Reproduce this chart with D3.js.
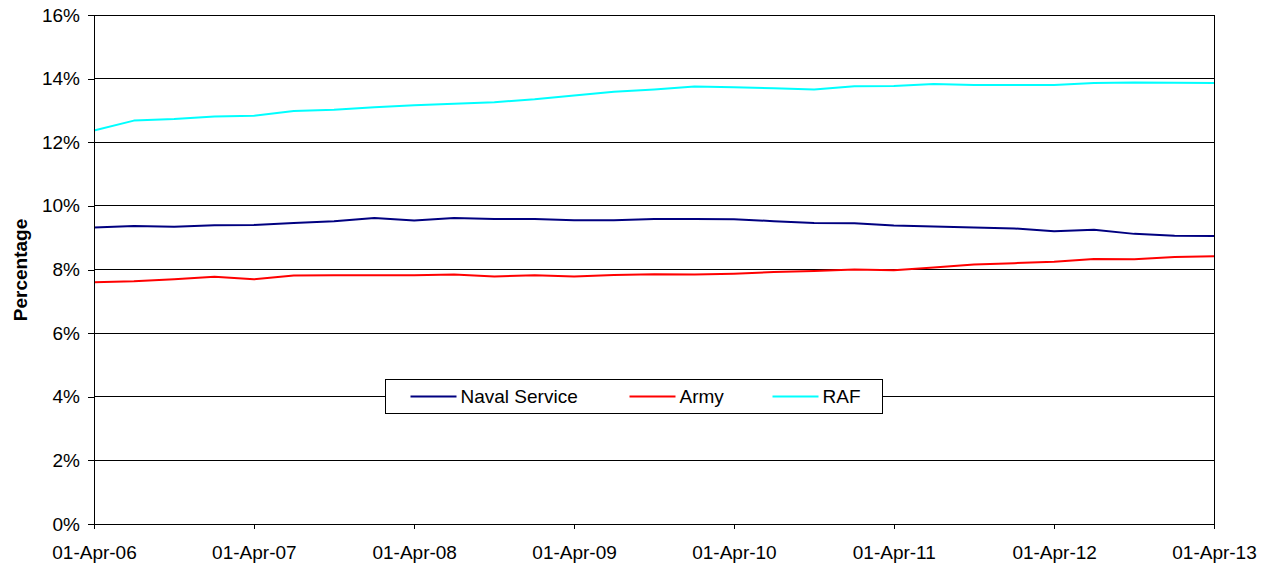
<!DOCTYPE html>
<html>
<head>
<meta charset="utf-8">
<script src="https://cdn.jsdelivr.net/npm/d3@7"></script>
<style>
  body { margin: 0; background: #fff; }
  svg { font-family: "Liberation Sans", Arial, sans-serif; }
  .axis text { font-size: 19px; fill: #000; }
  .axis path, .axis line { stroke: #000; shape-rendering: crispEdges; }
  .grid line { stroke: #000; shape-rendering: crispEdges; }
  .line { fill: none; stroke-width: 2; stroke-linejoin: round; }
  .legend text { font-size: 19px; }
</style>
</head>
<body>
<div class="graph"></div>
<script>
// quarterly snapshot dates
var dates = [
  "2006-04-01", "2006-07-01", "2006-10-01", "2007-01-01",
  "2007-04-01", "2007-07-01", "2007-10-01", "2008-01-01",
  "2008-04-01", "2008-07-01", "2008-10-01", "2009-01-01",
  "2009-04-01", "2009-07-01", "2009-10-01", "2010-01-01",
  "2010-04-01", "2010-07-01", "2010-10-01", "2011-01-01",
  "2011-04-01", "2011-07-01", "2011-10-01", "2012-01-01",
  "2012-04-01", "2012-07-01", "2012-10-01", "2013-01-01",
  "2013-04-01"
];
var xTickDates = ["2006-04-01", "2007-04-01", "2008-04-01", "2009-04-01",
  "2010-04-01", "2011-04-01", "2012-04-01", "2013-04-01"];
var yTicks = [0, 2, 4, 6, 8, 10, 12, 14, 16];

var naval = [9.32, 9.37, 9.34, 9.39, 9.40, 9.46, 9.52, 9.62, 9.54, 9.62,
  9.59, 9.59, 9.55, 9.55, 9.59, 9.59, 9.58, 9.52, 9.46, 9.45,
  9.38, 9.35, 9.32, 9.29, 9.20, 9.25, 9.12, 9.06, 9.05];
var army = [7.60, 7.63, 7.69, 7.77, 7.69, 7.81, 7.82, 7.82, 7.82, 7.84,
  7.78, 7.82, 7.78, 7.83, 7.85, 7.84, 7.87, 7.92, 7.95, 8.00,
  7.98, 8.06, 8.16, 8.20, 8.24, 8.33, 8.32, 8.39, 8.42];
var raf = [12.37, 12.68, 12.73, 12.81, 12.83, 12.98, 13.02, 13.10, 13.16, 13.21,
  13.26, 13.35, 13.47, 13.59, 13.66, 13.75, 13.73, 13.70, 13.66, 13.76,
  13.77, 13.83, 13.80, 13.80, 13.80, 13.86, 13.88, 13.87, 13.86];

var seriesNames = ["Naval Service", "Army", "RAF"];
var seriesColors = ["#000080", "#ff0000", "#00ffff"];

var margin = { top: 15, left: 94, right: 59, bottom: 43 };
var width = 1273, height = 567;
var innerW = width - margin.left - margin.right,
    innerH = height - margin.top - margin.bottom;

var parse = d3.timeParse("%Y-%m-%d");
var series = [naval, army, raf].map(function(vals, i) {
  return {
    name: seriesNames[i],
    color: seriesColors[i],
    points: vals.map(function(v, j) { return { date: parse(dates[j]), value: v }; })
  };
});

var svg = d3.select(".graph").append("svg")
    .attr("width", width)
    .attr("height", height);
var g = svg.append("g")
    .attr("transform", "translate(" + margin.left + "," + margin.top + ")");

var xScale = d3.scaleTime()
    .domain([parse(dates[0]), parse(dates[dates.length - 1])])
    .range([0, innerW]);
var yScale = d3.scaleLinear()
    .domain([0, 16])
    .range([innerH, 0]);

// Horizontal gridlines
g.append("g")
    .attr("class", "grid")
  .selectAll("line")
  .data(yTicks.filter(function(d) { return d > 0; }))
  .enter().append("line")
    .attr("x1", 0)
    .attr("x2", innerW)
    .attr("y1", function(d) { return yScale(d); })
    .attr("y2", function(d) { return yScale(d); });

// right border
g.append("line")
    .attr("class", "grid")
    .attr("x1", innerW).attr("x2", innerW)
    .attr("y1", 0).attr("y2", innerH)
    .attr("stroke", "#000")
    .attr("shape-rendering", "crispEdges");

var line = d3.line()
    .x(function(d) { return xScale(d.date); })
    .y(function(d) { return yScale(d.value); });

g.selectAll(".line")
  .data(series)
  .enter().append("path")
    .attr("class", "line")
    .attr("stroke", function(d) { return d.color; })
    .attr("d", function(d) { return line(d.points); });

// Y axis
var yAxis = d3.axisLeft(yScale)
    .tickValues(yTicks)
    .tickSize(6)
    .tickPadding(8)
    .tickFormat(function(d) { return d + "%"; });
g.append("g")
    .attr("class", "y axis")
    .call(yAxis)
    .call(function(s) { s.select(".domain").attr("d", "M0," + innerH + "V0"); });

// X axis
var xAxis = d3.axisBottom(xScale)
    .tickValues(xTickDates.map(parse))
    .tickSize(5)
    .tickPadding(17)
    .tickFormat(d3.timeFormat("%d-%b-%y"));
g.append("g")
    .attr("class", "x axis")
    .attr("transform", "translate(0," + innerH + ")")
    .call(xAxis)
    .call(function(s) { s.select(".domain").attr("d", "M0,0H" + innerW); });

svg.selectAll(".axis text").attr("font-family", null);

// Axis title
svg.append("text")
    .attr("transform", "translate(27,270) rotate(-90)")
    .attr("text-anchor", "middle")
    .attr("font-size", 19)
    .attr("font-weight", "bold")
    .text("Percentage");

// Legend
var legend = svg.append("g")
    .attr("class", "legend")
    .attr("transform", "translate(385.5,379.5)");
legend.append("rect")
    .attr("width", 497)
    .attr("height", 34)
    .attr("fill", "#fff")
    .attr("stroke", "#000");
var legendX = [25, 244, 387];
var item = legend.selectAll(".item")
  .data(series)
  .enter().append("g")
    .attr("class", "item")
    .attr("transform", function(d, i) { return "translate(" + legendX[i] + ",17)"; });
item.append("line")
    .attr("x1", 0).attr("x2", 46)
    .attr("stroke-width", 2)
    .attr("stroke", function(d) { return d.color; });
item.append("text")
    .attr("x", 50)
    .attr("dy", "0.35em")
    .text(function(d) { return d.name; });
</script>
</body>
</html>
